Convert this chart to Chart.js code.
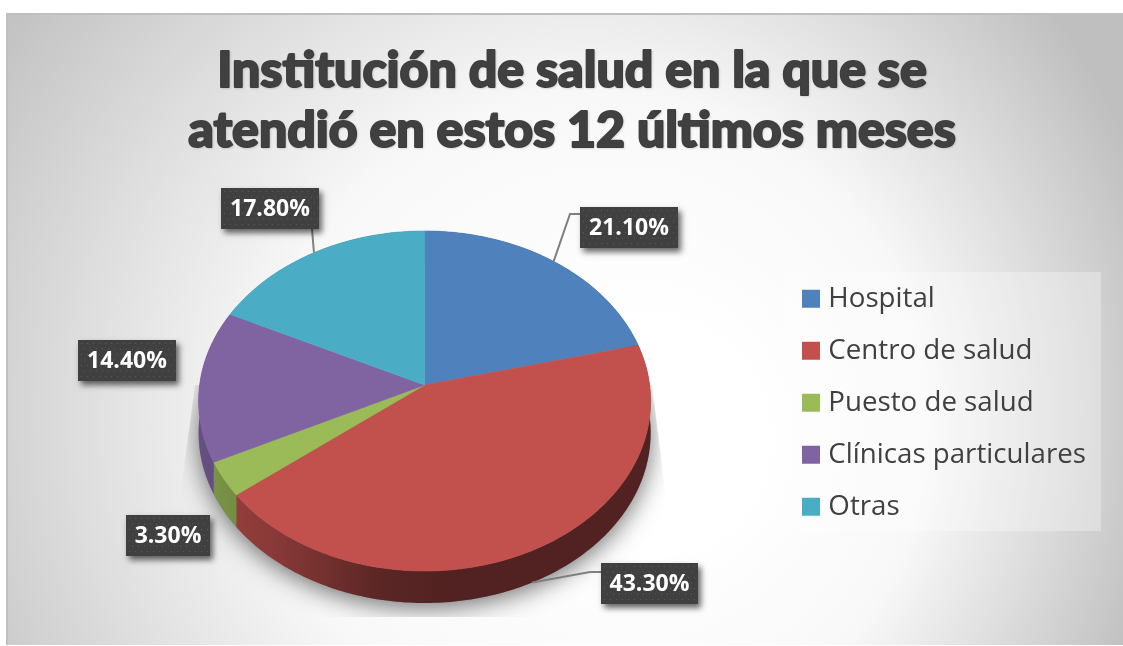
<!DOCTYPE html>
<html>
<head>
<meta charset="utf-8">
<title>Institución de salud</title>
<script src="https://cdn.jsdelivr.net/npm/chart.js@4/dist/chart.umd.min.js"></script>
<style>
body { margin: 0; background: #fff; }
canvas { display: block; }
</style>
</head>
<body>
<canvas id="chart" width="1123" height="646"></canvas>
<script>
const categories = ['Hospital', 'Centro de salud', 'Puesto de salud', 'Clínicas particulares', 'Otras'];
const values = [21.1, 43.3, 3.3, 14.4, 17.8];
const colors = ['#4f81bd', '#c2514e', '#9bbb59', '#8064a2', '#4bacc6'];
const titleLines = ['Institución de salud en la que se', 'atendió en estos 12 últimos meses'];

// where the label boxes sit, same order as categories (left, top, width)
const labelBoxes = [[580, 207, 98], [601, 563, 97], [126, 515, 84], [78, 340, 98], [221, 188, 98]];
// leader elbow for the labels that have one
const leaders = { 0: [[570, 214], [581, 214]], 1: [[590, 572], [601, 572]], 4: [[312, 229]] };

// perspective of the tilted pie, relative to the radius
const squash = 0.749, persp = -0.094, depth = 32;

function project(arc, a, drop) {
    const u = Math.cos(a), v = Math.sin(a), w = 1 + persp * v, r = arc.outerRadius;
    return { x: arc.x + r * u / w, y: arc.y + r * squash * v / w + (drop || 0) };
}

function edge(ctx, arc, from, to, drop) {
    const n = Math.max(2, Math.ceil(Math.abs(to - from) * 60));
    for (let i = 0; i <= n; i++) {
        const p = project(arc, from + (to - from) * i / n, drop);
        ctx.lineTo(p.x, p.y);
    }
}

function shade(hex, f) {
    const n = parseInt(hex.slice(1), 16);
    return 'rgb(' + [(n >> 16) & 255, (n >> 8) & 255, n & 255].map(c => Math.round(c * f)).join(',') + ')';
}

function drawTop(ctx) {
    const arc = this;
    ctx.save();
    ctx.fillStyle = arc.options.backgroundColor;
    ctx.strokeStyle = arc.options.backgroundColor;
    ctx.lineWidth = 0.6;
    ctx.beginPath();
    ctx.moveTo(arc.x, arc.y);
    edge(ctx, arc, arc.startAngle, arc.endAngle, 0);
    ctx.closePath();
    ctx.fill();
    ctx.stroke();
    ctx.restore();
}

// no heavier Lato is installed, so the title gets a thin outline of its own colour
function heavyTitle(title) {
    const draw = title.draw;
    title.draw = function () {
        const c = this.ctx, fill = c.fillText;
        c.save();
        c.shadowColor = 'rgba(0,0,0,0.1)';
        c.shadowBlur = 2;
        c.shadowOffsetX = 1;
        c.shadowOffsetY = 1;
        c.fillText = function (s, x, y) {
            c.lineWidth = 2;
            c.lineJoin = 'round';
            c.strokeStyle = c.fillStyle;
            c.strokeText(s, x, y);
            fill.call(c, s, x, y);
        };
        draw.call(this);
        delete c.fillText;
        c.restore();
    };
    title.heavy = true;
}

const tiltPie = {
    id: 'tiltPie',
    beforeDraw(chart) {
        const ctx = chart.ctx;
        const g = ctx.createRadialGradient(650, 440, 110, 520, 400, 660);
        g.addColorStop(0, '#ffffff');
        g.addColorStop(0.4, '#f8f8f8');
        g.addColorStop(0.7, '#dcdcdc');
        g.addColorStop(1, '#bfbfbf');
        ctx.fillStyle = g;
        ctx.fillRect(6, 13, 1117, 632);
        ctx.fillStyle = '#bfbfbf';
        ctx.fillRect(6, 13, 1117, 2);
        ctx.fillRect(6, 13, 2, 632);
        ctx.fillStyle = 'rgba(255,255,255,0.3)';
        ctx.fillRect(783, 272, 318, 259);
    },
    afterLayout(chart) {
        // title sits right of the canvas centre, legend is pinned over its panel
        chart.titleBlock.left = 21;
        chart.titleBlock.right = 1123;
        if (!chart.titleBlock.heavy) heavyTitle(chart.titleBlock);
        const legend = chart.legend;
        legend.left = 807.5 - legend.options.labels.padding;
        legend.top = 285 - legend.options.labels.padding;
    },
    beforeDatasetsDraw(chart) {
        const ctx = chart.ctx, arcs = chart.getDatasetMeta(0).data;
        arcs.forEach(arc => { arc.draw = drawTop; });
        const a0 = arcs[0];

        // soft shadow under the lower half
        ctx.save();
        ctx.beginPath();
        ctx.moveTo(195, 385);
        ctx.lineTo(181, 490);
        ctx.lineTo(181, 617);
        ctx.lineTo(667, 617);
        ctx.lineTo(665, 490);
        ctx.lineTo(652, 385);
        ctx.closePath();
        ctx.clip();
        ctx.shadowColor = 'rgba(0,0,0,0.55)';
        ctx.shadowBlur = 24;
        ctx.shadowOffsetY = 5;
        ctx.fillStyle = '#888';
        ctx.beginPath();
        edge(ctx, a0, 0, Math.PI * 2, depth);
        ctx.closePath();
        ctx.fill();
        ctx.restore();

        // rim of every slice, the top faces cover the hidden part
        arcs.forEach(arc => {
            const base = arc.options.backgroundColor;
            const g = ctx.createLinearGradient(arc.x - arc.outerRadius, 0, arc.x + arc.outerRadius, 0);
            g.addColorStop(0, shade(base, 0.8));
            g.addColorStop(0.17, shade(base, 0.7));
            g.addColorStop(0.4, shade(base, 0.47));
            g.addColorStop(0.55, shade(base, 0.42));
            g.addColorStop(1, shade(base, 0.42));
            ctx.fillStyle = g;
            ctx.beginPath();
            edge(ctx, arc, arc.startAngle, arc.endAngle, 0);
            edge(ctx, arc, arc.endAngle, arc.startAngle, depth);
            ctx.closePath();
            ctx.fill();
        });
    },
    afterDatasetsDraw(chart) {
        const ctx = chart.ctx, arcs = chart.getDatasetMeta(0).data;
        ctx.save();
        ctx.strokeStyle = '#7f7f7f';
        ctx.lineWidth = 2;
        Object.keys(leaders).forEach(i => {
            const arc = arcs[i], mid = (arc.startAngle + arc.endAngle) / 2;
            const p = project(arc, mid, Math.sin(mid) > 0 ? depth : 0);
            ctx.beginPath();
            ctx.moveTo(p.x, p.y);
            leaders[i].forEach(q => ctx.lineTo(q[0], q[1]));
            ctx.stroke();
        });
        ctx.restore();

        values.forEach((v, i) => {
            const [x, y, w] = labelBoxes[i], h = 41;
            ctx.save();
            ctx.shadowColor = 'rgba(0,0,0,0.6)';
            ctx.shadowBlur = 6;
            ctx.shadowOffsetX = 3;
            ctx.shadowOffsetY = 4;
            ctx.fillStyle = '#404040';
            ctx.fillRect(x, y, w, h);
            ctx.restore();
            ctx.fillStyle = '#5a5a5a';
            for (let dy = 3, row = 0; dy < h; dy += 5.5, row++) {
                for (let dx = 3 + (row % 2) * 3; dx < w - 1; dx += 6) {
                    ctx.fillRect(x + dx, y + dy, 1, 1);
                }
            }
            ctx.fillStyle = '#ffffff';
            ctx.font = 'bold 23px "Open Sans"';
            ctx.textAlign = 'center';
            ctx.textBaseline = 'middle';
            ctx.fillText(v.toFixed(2) + '%', x + w / 2, y + h / 2 + 1);
        });
    }
};

new Chart(document.getElementById('chart'), {
    type: 'pie',
    data: {
        labels: categories,
        datasets: [{
            data: values,
            backgroundColor: colors,
            borderWidth: 0,
            radius: 225
        }]
    },
    plugins: [tiltPie],
    options: {
        responsive: false,
        animation: false,
        layout: { padding: { left: 61, right: 22, bottom: 37 } },
        plugins: {
            tooltip: { enabled: false },
            title: {
                display: true,
                text: titleLines,
                color: '#404040',
                font: { family: 'Lato', size: 50, weight: '900', lineHeight: 1.2 },
                padding: { top: 41, bottom: 0 }
            },
            legend: {
                position: 'right',
                align: 'start',
                labels: {
                    color: '#404040',
                    font: { family: '"Open Sans"', size: 27.7 },
                    boxWidth: 7,
                    boxHeight: 7,
                    padding: 24.3,
                    generateLabels(chart) {
                        const items = Chart.overrides.pie.plugins.legend.labels.generateLabels(chart);
                        items.forEach(it => {
                            it.strokeStyle = it.fillStyle;
                            it.lineWidth = 11;
                        });
                        return items;
                    }
                }
            }
        }
    }
});
</script>
</body>
</html>
